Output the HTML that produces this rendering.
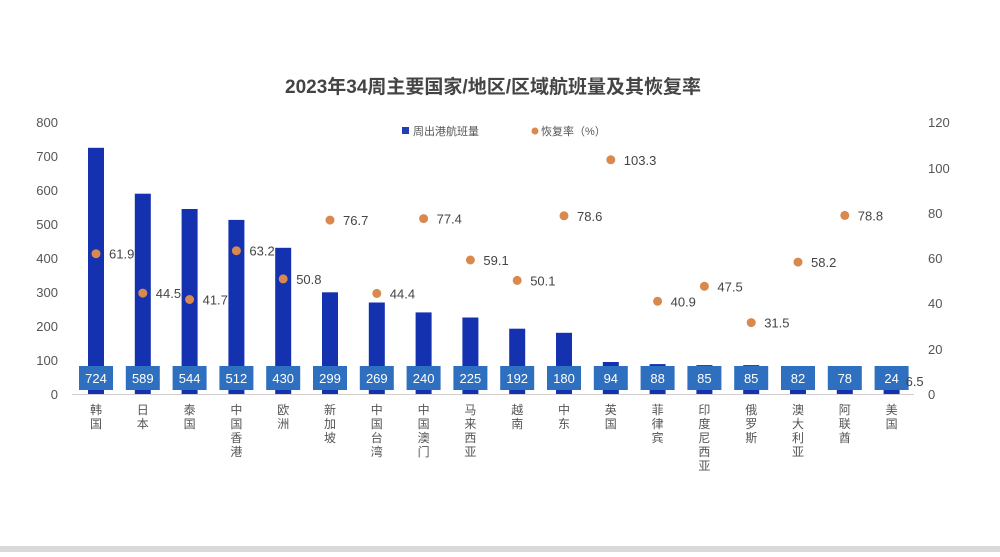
<!DOCTYPE html>
<html><head><meta charset="utf-8"><style>
body{margin:0;background:#fff;}
svg text{font-family:"Liberation Sans","Noto Sans CJK SC",sans-serif;}
.b{fill:#1431b0}.l{fill:#2f6fc0}.d{fill:#d9894e}
.w{font-size:13px;fill:#fff;text-anchor:middle}
.n{font-size:12px;fill:#555;text-anchor:middle}
.p{font-size:13px;fill:#444}
</style></head><body>
<svg width="1000" height="552" xmlns="http://www.w3.org/2000/svg">
<rect width="1000" height="552" fill="#fff"/>
<rect x="0" y="546" width="1000" height="6" fill="#d9d9d9"/>
<text x="493" y="93" text-anchor="middle" font-size="19" font-weight="bold" fill="#444">2023年34周主要国家/地区/区域航班量及其恢复率</text>
<rect x="402" y="127" width="7" height="7" fill="#1f3fb3"/>
<text x="413" y="135" font-size="11" fill="#555">周出港航班量</text>
<circle cx="535" cy="131" r="3.5" fill="#d9894e"/>
<text x="541" y="135" font-size="11" fill="#555">恢复率（%）</text>
<g font-size="13" fill="#555" text-anchor="end">
<text x="58" y="127">800</text><text x="58" y="161">700</text><text x="58" y="195">600</text><text x="58" y="229">500</text><text x="58" y="263">400</text><text x="58" y="297">300</text><text x="58" y="331">200</text><text x="58" y="365">100</text><text x="58" y="399">0</text>
</g>
<g font-size="13" fill="#555">
<text x="928" y="127">120</text><text x="928" y="173">100</text><text x="928" y="218">80</text><text x="928" y="263">60</text><text x="928" y="308">40</text><text x="928" y="354">20</text><text x="928" y="399">0</text>
</g>
<line x1="72" y1="394.5" x2="914" y2="394.5" stroke="#d0d0d0"/>
<g>
<rect class="b" x="88" y="147.8" width="16" height="246.2"/>
<rect class="b" x="134.8" y="193.7" width="16" height="200.3"/>
<rect class="b" x="181.6" y="209" width="16" height="185"/>
<rect class="b" x="228.4" y="219.9" width="16" height="174.1"/>
<rect class="b" x="275.2" y="247.8" width="16" height="146.2"/>
<rect class="b" x="322" y="292.3" width="16" height="101.7"/>
<rect class="b" x="368.8" y="302.5" width="16" height="91.5"/>
<rect class="b" x="415.6" y="312.4" width="16" height="81.6"/>
<rect class="b" x="462.4" y="317.5" width="16" height="76.5"/>
<rect class="b" x="509.2" y="328.7" width="16" height="65.3"/>
<rect class="b" x="556" y="332.8" width="16" height="61.2"/>
<rect class="b" x="602.8" y="362" width="16" height="32"/>
<rect class="b" x="649.6" y="364.1" width="16" height="29.9"/>
<rect class="b" x="696.4" y="365.1" width="16" height="28.9"/>
<rect class="b" x="743.2" y="365.1" width="16" height="28.9"/>
<rect class="b" x="790" y="366.1" width="16" height="27.9"/>
<rect class="b" x="836.8" y="367.5" width="16" height="26.5"/>
<rect class="b" x="883.6" y="385.8" width="16" height="8.2"/>
</g>
<g>
<rect class="l" x="79" y="366" width="34" height="24"/><text class="w" x="96" y="383">724</text>
<rect class="l" x="125.8" y="366" width="34" height="24"/><text class="w" x="142.8" y="383">589</text>
<rect class="l" x="172.6" y="366" width="34" height="24"/><text class="w" x="189.6" y="383">544</text>
<rect class="l" x="219.4" y="366" width="34" height="24"/><text class="w" x="236.4" y="383">512</text>
<rect class="l" x="266.2" y="366" width="34" height="24"/><text class="w" x="283.2" y="383">430</text>
<rect class="l" x="313" y="366" width="34" height="24"/><text class="w" x="330" y="383">299</text>
<rect class="l" x="359.8" y="366" width="34" height="24"/><text class="w" x="376.8" y="383">269</text>
<rect class="l" x="406.6" y="366" width="34" height="24"/><text class="w" x="423.6" y="383">240</text>
<rect class="l" x="453.4" y="366" width="34" height="24"/><text class="w" x="470.4" y="383">225</text>
<rect class="l" x="500.2" y="366" width="34" height="24"/><text class="w" x="517.2" y="383">192</text>
<rect class="l" x="547" y="366" width="34" height="24"/><text class="w" x="564" y="383">180</text>
<rect class="l" x="593.8" y="366" width="34" height="24"/><text class="w" x="610.8" y="383">94</text>
<rect class="l" x="640.6" y="366" width="34" height="24"/><text class="w" x="657.6" y="383">88</text>
<rect class="l" x="687.4" y="366" width="34" height="24"/><text class="w" x="704.4" y="383">85</text>
<rect class="l" x="734.2" y="366" width="34" height="24"/><text class="w" x="751.2" y="383">85</text>
<rect class="l" x="781" y="366" width="34" height="24"/><text class="w" x="798" y="383">82</text>
<rect class="l" x="827.8" y="366" width="34" height="24"/><text class="w" x="844.8" y="383">78</text>
<rect class="l" x="874.6" y="366" width="34" height="24"/><text class="w" x="891.6" y="383">24</text>
</g>
<g>
<circle class="d" cx="96" cy="253.7" r="4.5"/><text class="p" x="109" y="258.7">61.9</text>
<circle class="d" cx="142.8" cy="293.1" r="4.5"/><text class="p" x="155.8" y="298.1">44.5</text>
<circle class="d" cx="189.6" cy="299.5" r="4.5"/><text class="p" x="202.6" y="304.5">41.7</text>
<circle class="d" cx="236.4" cy="250.7" r="4.5"/><text class="p" x="249.4" y="255.7">63.2</text>
<circle class="d" cx="283.2" cy="278.9" r="4.5"/><text class="p" x="296.2" y="283.9">50.8</text>
<circle class="d" cx="330" cy="220.1" r="4.5"/><text class="p" x="343" y="225.1">76.7</text>
<circle class="d" cx="376.8" cy="293.4" r="4.5"/><text class="p" x="389.8" y="298.4">44.4</text>
<circle class="d" cx="423.6" cy="218.6" r="4.5"/><text class="p" x="436.6" y="223.6">77.4</text>
<circle class="d" cx="470.4" cy="260" r="4.5"/><text class="p" x="483.4" y="265">59.1</text>
<circle class="d" cx="517.2" cy="280.4" r="4.5"/><text class="p" x="530.2" y="285.4">50.1</text>
<circle class="d" cx="564" cy="215.8" r="4.5"/><text class="p" x="577" y="220.8">78.6</text>
<circle class="d" cx="610.8" cy="159.8" r="4.5"/><text class="p" x="623.8" y="164.8">103.3</text>
<circle class="d" cx="657.6" cy="301.3" r="4.5"/><text class="p" x="670.6" y="306.3">40.9</text>
<circle class="d" cx="704.4" cy="286.3" r="4.5"/><text class="p" x="717.4" y="291.3">47.5</text>
<circle class="d" cx="751.2" cy="322.6" r="4.5"/><text class="p" x="764.2" y="327.6">31.5</text>
<circle class="d" cx="798" cy="262.1" r="4.5"/><text class="p" x="811" y="267.1">58.2</text>
<circle class="d" cx="844.8" cy="215.4" r="4.5"/><text class="p" x="857.8" y="220.4">78.8</text>
<text class="p" x="905.6" y="386">6.5</text>
</g>
<g>
<text class="n" x="96" y="414">韩<tspan x="96" dy="14">国</tspan></text>
<text class="n" x="142.8" y="414">日<tspan x="142.8" dy="14">本</tspan></text>
<text class="n" x="189.6" y="414">泰<tspan x="189.6" dy="14">国</tspan></text>
<text class="n" x="236.4" y="414">中<tspan x="236.4" dy="14">国</tspan><tspan x="236.4" dy="14">香</tspan><tspan x="236.4" dy="14">港</tspan></text>
<text class="n" x="283.2" y="414">欧<tspan x="283.2" dy="14">洲</tspan></text>
<text class="n" x="330" y="414">新<tspan x="330" dy="14">加</tspan><tspan x="330" dy="14">坡</tspan></text>
<text class="n" x="376.8" y="414">中<tspan x="376.8" dy="14">国</tspan><tspan x="376.8" dy="14">台</tspan><tspan x="376.8" dy="14">湾</tspan></text>
<text class="n" x="423.6" y="414">中<tspan x="423.6" dy="14">国</tspan><tspan x="423.6" dy="14">澳</tspan><tspan x="423.6" dy="14">门</tspan></text>
<text class="n" x="470.4" y="414">马<tspan x="470.4" dy="14">来</tspan><tspan x="470.4" dy="14">西</tspan><tspan x="470.4" dy="14">亚</tspan></text>
<text class="n" x="517.2" y="414">越<tspan x="517.2" dy="14">南</tspan></text>
<text class="n" x="564" y="414">中<tspan x="564" dy="14">东</tspan></text>
<text class="n" x="610.8" y="414">英<tspan x="610.8" dy="14">国</tspan></text>
<text class="n" x="657.6" y="414">菲<tspan x="657.6" dy="14">律</tspan><tspan x="657.6" dy="14">宾</tspan></text>
<text class="n" x="704.4" y="414">印<tspan x="704.4" dy="14">度</tspan><tspan x="704.4" dy="14">尼</tspan><tspan x="704.4" dy="14">西</tspan><tspan x="704.4" dy="14">亚</tspan></text>
<text class="n" x="751.2" y="414">俄<tspan x="751.2" dy="14">罗</tspan><tspan x="751.2" dy="14">斯</tspan></text>
<text class="n" x="798" y="414">澳<tspan x="798" dy="14">大</tspan><tspan x="798" dy="14">利</tspan><tspan x="798" dy="14">亚</tspan></text>
<text class="n" x="844.8" y="414">阿<tspan x="844.8" dy="14">联</tspan><tspan x="844.8" dy="14">酋</tspan></text>
<text class="n" x="891.6" y="414">美<tspan x="891.6" dy="14">国</tspan></text>
</g>
</svg>
</body></html>
